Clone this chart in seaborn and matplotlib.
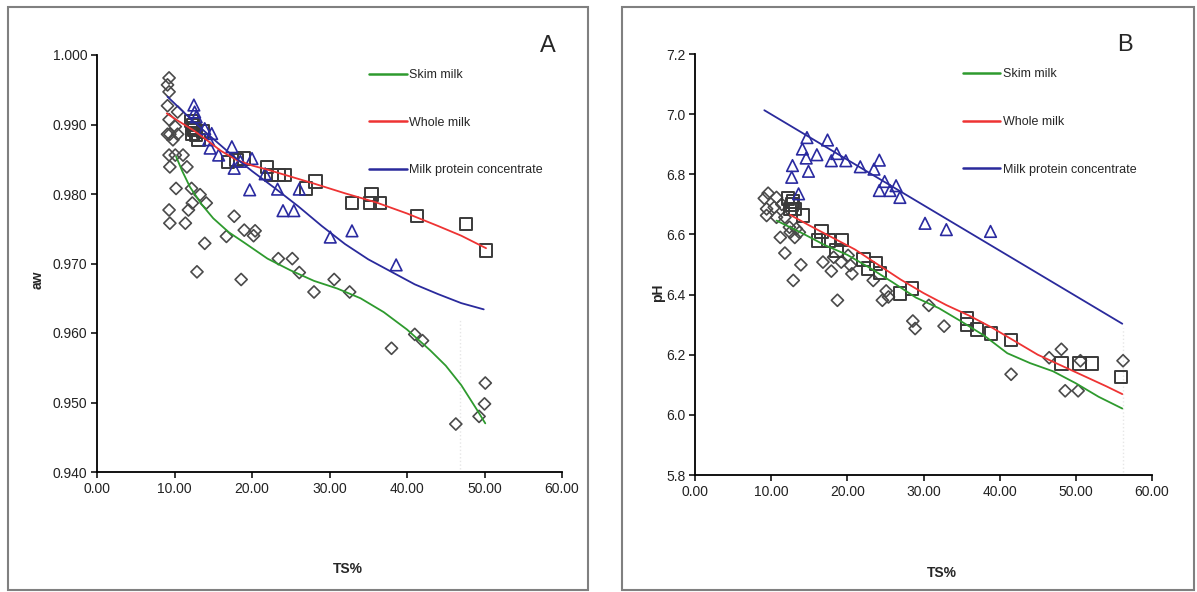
import matplotlib
matplotlib.use("Agg")
import matplotlib.pyplot as plt
import pandas as pd
import seaborn as sns
from matplotlib.patches import Rectangle

# ---- Panel A: water activity vs total solids ----
skim_a_x = [9.3, 9.1, 9.3, 9.1, 10.4, 9.3, 10.1, 9.1, 9.4, 10.4, 9.8, 9.3, 10.1, 11.1,
            9.4, 11.6, 10.2, 12.2, 13.3, 12.3, 14.1, 9.3, 11.8, 17.7, 9.4, 11.4, 19.0,
            20.4, 20.2, 16.7, 13.9, 23.4, 25.2, 12.9, 18.6, 26.1, 28.0, 30.6, 32.6,
            38.0, 41.0, 42.0, 46.3, 49.3, 50.0, 50.1]
skim_a_y = [0.9967, 0.9957, 0.9947, 0.9927, 0.9918, 0.9907, 0.9897, 0.9886, 0.9886, 0.9886,
            0.9878, 0.9856, 0.9856, 0.9856, 0.9839, 0.9839, 0.9808, 0.9808, 0.9799, 0.9787,
            0.9787, 0.9777, 0.9777, 0.9768, 0.9758, 0.9758, 0.9748, 0.9747, 0.9740, 0.9739,
            0.9729, 0.9707, 0.9707, 0.9688, 0.9677, 0.9687, 0.9659, 0.9677, 0.9659, 0.9578,
            0.9598, 0.9589, 0.9469, 0.9480, 0.9498, 0.9528]

whole_a_x = [12.2, 12.4, 12.6, 12.3, 12.8, 13.1, 13.7, 12.5, 16.9, 18.0, 19.0, 21.9, 22.5,
             23.4, 24.2, 27.0, 28.2, 32.9, 35.4, 35.2, 36.5, 41.3, 47.6, 50.2]
whole_a_y = [0.9905, 0.9899, 0.9892, 0.9887, 0.9885, 0.9878, 0.9890, 0.9895, 0.9846, 0.9849,
             0.9851, 0.9839, 0.9827, 0.9827, 0.9827, 0.9808, 0.9818, 0.9787, 0.9799, 0.9787,
             0.9787, 0.9768, 0.9757, 0.9719]

mpc_a_x = [12.5, 12.6, 12.8, 13.9, 14.8, 14.4, 14.6, 15.7, 17.4, 17.7, 18.5, 20.0, 19.7,
           21.7, 23.3, 26.1, 24.0, 25.4, 30.1, 32.9, 38.6]
mpc_a_y = [0.9928, 0.9918, 0.9911, 0.9894, 0.9887, 0.9878, 0.9866, 0.9856, 0.9868, 0.9837,
           0.9847, 0.9851, 0.9806, 0.9829, 0.9807, 0.9807, 0.9776, 0.9776, 0.9738, 0.9747,
           0.9698]

skim_fit_a_x = [10.2, 11.0, 12.0, 13.5, 15.0, 17.0, 19.0, 22.0, 25.0, 28.0, 31.0, 34.0,
                37.0, 40.0, 43.0, 45.0, 47.0, 49.0, 50.1]
skim_fit_a_y = [0.9854, 0.9833, 0.9810, 0.9785, 0.9765, 0.9745, 0.9730, 0.9707, 0.9690,
                0.9675, 0.9664, 0.9650, 0.9630, 0.9605, 0.9575, 0.9553, 0.9525, 0.9490, 0.9470]
whole_fit_a_x = [9.0, 10.5, 12.4, 14.0, 16.0, 18.0, 20.0, 22.0, 25.0, 28.0, 32.0, 36.0,
                 40.0, 44.0, 47.0, 50.2]
whole_fit_a_y = [0.9916, 0.9905, 0.9892, 0.9879, 0.9862, 0.9849, 0.9841, 0.9835, 0.9825,
                 0.9815, 0.9801, 0.9788, 0.9772, 0.9754, 0.9740, 0.9722]
mpc_fit_a_x = [9.1, 10.5, 12.0, 14.0, 17.0, 20.0, 23.0, 26.0, 29.0, 32.0, 35.0, 38.0,
               41.0, 44.0, 47.0, 49.9]
mpc_fit_a_y = [0.9940, 0.9925, 0.9909, 0.9889, 0.9860, 0.9833, 0.9808, 0.9782, 0.9754,
               0.9728, 0.9706, 0.9688, 0.9670, 0.9656, 0.9643, 0.9634]

# ---- Panel B: pH vs total solids ----
skim_b_x = [9.6, 9.1, 10.7, 9.4, 10.4, 11.4, 9.4, 10.7, 11.8, 12.4, 13.3, 11.2, 12.5, 13.1,
            13.7, 11.8, 13.9, 12.9, 16.8, 17.9, 18.2, 19.2, 20.1, 20.4, 20.6, 18.7, 23.4,
            24.6, 25.1, 25.4, 28.6, 28.9, 30.7, 32.7, 41.5, 46.5, 48.1, 48.6, 50.3, 50.6,
            56.2]
skim_b_y = [6.737, 6.720, 6.723, 6.685, 6.690, 6.700, 6.663, 6.657, 6.657, 6.624, 6.619,
            6.590, 6.607, 6.590, 6.607, 6.538, 6.499, 6.447, 6.508, 6.478, 6.524, 6.508,
            6.530, 6.497, 6.469, 6.381, 6.447, 6.381, 6.412, 6.392, 6.312, 6.287, 6.364,
            6.295, 6.135, 6.190, 6.218, 6.080, 6.080, 6.180, 6.180]

whole_b_x = [12.7, 12.2, 13.1, 14.2, 12.5, 12.9, 16.6, 16.2, 17.5, 19.3, 18.6, 22.1, 22.7,
             23.8, 24.3, 26.9, 28.5, 35.7, 35.7, 37.0, 38.9, 41.5, 48.1, 50.5, 52.1, 55.9]
whole_b_y = [6.700, 6.720, 6.685, 6.663, 6.685, 6.710, 6.610, 6.580, 6.580, 6.582, 6.547,
             6.517, 6.486, 6.503, 6.471, 6.403, 6.420, 6.320, 6.300, 6.284, 6.270, 6.248,
             6.171, 6.171, 6.171, 6.126]

mpc_b_x = [14.7, 17.4, 14.1, 16.0, 14.6, 18.6, 17.9, 19.8, 21.7, 23.5, 24.2, 12.8, 12.7,
           14.9, 24.9, 24.2, 25.6, 26.4, 26.9, 13.6, 30.2, 33.0, 38.8]
mpc_b_y = [6.922, 6.914, 6.884, 6.865, 6.854, 6.869, 6.845, 6.845, 6.825, 6.817, 6.847,
           6.829, 6.790, 6.810, 6.776, 6.746, 6.746, 6.762, 6.723, 6.735, 6.637, 6.616,
           6.610]

skim_fit_b_x = [10.7, 14.0, 17.0, 20.0, 23.0, 26.0, 29.0, 32.0, 35.0, 38.0, 41.0, 44.0,
                47.0, 50.0, 53.0, 56.1]
skim_fit_b_y = [6.646, 6.605, 6.565, 6.532, 6.488, 6.440, 6.390, 6.355, 6.310, 6.263,
                6.205, 6.172, 6.145, 6.105, 6.060, 6.021]
whole_fit_b_x = [12.5, 15.0, 18.0, 21.0, 24.0, 27.0, 30.0, 33.0, 36.0, 39.0, 42.0, 45.0,
                 48.0, 51.0, 54.0, 56.1]
whole_fit_b_y = [6.665, 6.630, 6.590, 6.550, 6.500, 6.450, 6.405, 6.365, 6.330, 6.290,
                 6.245, 6.200, 6.165, 6.130, 6.095, 6.069]
mpc_fit_b_x = [9.1, 56.1]
mpc_fit_b_y = [7.013, 6.303]

labels = ["Skim milk", "Whole milk", "Milk protein concentrate"]
line_colors = ["#2e9a2e", "#ee3333", "#2a2a9c"]

sns.set_theme(style="white")
plt.rcParams["font.family"] = ["Liberation Sans", "DejaVu Sans"]

fig = plt.figure(figsize=(11.97, 5.92), dpi=100)
fig.patch.set_facecolor("white")
fig.patches.append(Rectangle((8 / 1197, 2 / 592), 580 / 1197, 583 / 592, transform=fig.transFigure,
                             fill=False, edgecolor="#808080", linewidth=1.5))
fig.patches.append(Rectangle((622 / 1197, 2 / 592), 572 / 1197, 583 / 592, transform=fig.transFigure,
                             fill=False, edgecolor="#808080", linewidth=1.5))

axA = fig.add_axes([97 / 1197, 1 - 472 / 592, 465 / 1197, 417 / 592])
axB = fig.add_axes([695 / 1197, 1 - 475 / 592, 457 / 1197, 421 / 592])


def draw_panel(ax, pts, fits, ylim, yticks, yfmt, ylabel, ylab_pos, letter, letter_x, dotted_x, dotted_y):
    (sx, sy), (wx, wy), (mx, my) = pts
    sns.scatterplot(x=sx, y=sy, ax=ax, marker="D", s=38, facecolor="none",
                    edgecolor="#4a4a4a", linewidth=1.2, zorder=3)
    sns.scatterplot(x=wx, y=wy, ax=ax, marker="s", s=80, facecolor="none",
                    edgecolor="#3a3a3a", linewidth=1.4, zorder=3)
    sns.scatterplot(x=mx, y=my, ax=ax, marker="^", s=70, facecolor="none",
                    edgecolor="#2a2aa0", linewidth=1.2, zorder=3)
    for (fx, fy), lab, col in zip(fits, labels, line_colors):
        sns.lineplot(x=fx, y=fy, ax=ax, color=col, linewidth=1.3, sort=False,
                     estimator=None, label=lab, zorder=4)
    ax.plot(dotted_x, dotted_y, color="#e6e6e6", linestyle=":", linewidth=1, zorder=1)

    ax.set_xlim(0, 60)
    ax.set_ylim(*ylim)
    ax.set_xticks(range(0, 61, 10))
    ax.set_xticklabels([f"{v:.2f}" for v in range(0, 61, 10)], fontsize=10)
    ax.set_yticks(yticks)
    ax.set_yticklabels([yfmt.format(v) for v in yticks], fontsize=10)
    for side in ["top", "right"]:
        ax.spines[side].set_visible(False)
    for side in ["left", "bottom"]:
        ax.spines[side].set_color("black")
        ax.spines[side].set_linewidth(1.3)
    ax.tick_params(axis="both", direction="out", length=4, width=1.1, color="black",
                   left=True, bottom=True, pad=3, labelcolor="#222222")
    ax.set_xlabel("TS%", fontsize=10, fontweight="bold")
    ax.xaxis.set_label_coords(0.54, -0.215)
    ax.set_ylabel(ylabel, fontsize=10, fontweight="bold")
    ax.yaxis.set_label_coords(*ylab_pos)
    ax.text(letter_x, 1.022, letter, transform=ax.transAxes, fontsize=17, ha="center", va="center")
    leg = ax.legend(loc="upper left", bbox_to_anchor=(0.575, 0.978), frameon=False, fontsize=9,
                    labelspacing=2.85, handlelength=3.0, handletextpad=0.2, borderaxespad=0)
    for h in leg.get_lines():
        h.set_linewidth(1.8)


draw_panel(axA,
           [(skim_a_x, skim_a_y), (whole_a_x, whole_a_y), (mpc_a_x, mpc_a_y)],
           [(skim_fit_a_x, skim_fit_a_y), (whole_fit_a_x, whole_fit_a_y), (mpc_fit_a_x, mpc_fit_a_y)],
           (0.940, 1.000), [0.94, 0.95, 0.96, 0.97, 0.98, 0.99, 1.00], "{:.3f}", "aw",
           (-0.112, 0.46), "A", 0.97, [46.9, 46.9], [0.9405, 0.962])

draw_panel(axB,
           [(skim_b_x, skim_b_y), (whole_b_x, whole_b_y), (mpc_b_x, mpc_b_y)],
           [(skim_fit_b_x, skim_fit_b_y), (whole_fit_b_x, whole_fit_b_y), (mpc_fit_b_x, mpc_fit_b_y)],
           (5.8, 7.2), [5.8, 6.0, 6.2, 6.4, 6.6, 6.8, 7.0, 7.2], "{:.1f}", "pH",
           (-0.066, 0.432), "B", 0.94, [56.2, 56.2], [5.81, 6.29])

fig.savefig("out.png", dpi=100, facecolor="white")
